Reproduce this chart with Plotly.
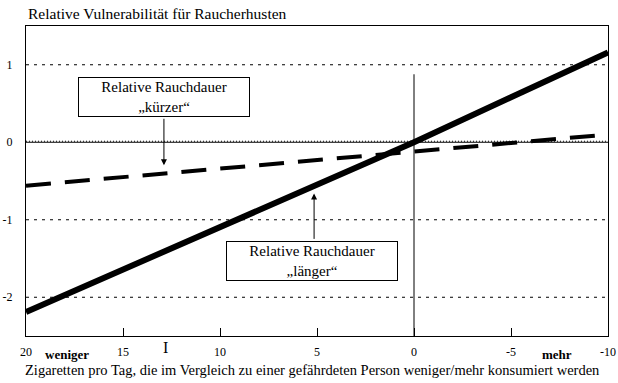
import plotly.graph_objects as go

# Data
x_vals = [20, 15, 10, 5, 0, -5, -10]
laenger = [-2.19, -1.64, -1.09, -0.54, 0.0, 0.58, 1.16]   # solid thick line
kuerzer = [-0.56, -0.45, -0.34, -0.22, -0.11, 0.0, 0.10]  # dashed line
x_ticks = [20, 15, 10, 5, 0, -5, -10]
y_ticks = [1, 0, -1, -2]

W, H = 618, 383
L, R, T, B = 26, 10, 26, 47
pw, ph = W - L - R, H - T - B

def px(xp):
    return (xp - L) / pw

def py(yp):
    return (H - B - yp) / ph

SERIF = "Liberation Serif"

fig = go.Figure()
fig.add_trace(go.Scatter(x=x_vals, y=kuerzer, mode="lines",
                         line=dict(color="black", width=4, dash="25px,14px"),
                         showlegend=False, hoverinfo="skip"))
fig.add_trace(go.Scatter(x=x_vals, y=laenger, mode="lines",
                         line=dict(color="black", width=6),
                         showlegend=False, hoverinfo="skip"))

shapes = []
for yv in [1, -1, -2]:
    shapes.append(dict(type="line", xref="x", yref="y", x0=20, x1=-10, y0=yv, y1=yv,
                       line=dict(color="black", width=1, dash="3px,5px"), layer="below"))
shapes.append(dict(type="line", xref="x", yref="y", x0=20, x1=-10, y0=0, y1=0,
                   line=dict(color="black", width=1), layer="below"))
shapes.append(dict(type="line", xref="x", yref="y", x0=20, x1=-10, y0=0.013, y1=0.013,
                   line=dict(color="black", width=1, dash="1px,2px"), layer="below"))
shapes.append(dict(type="line", xref="x", yref="y", x0=0, x1=0, y0=0.877, y1=-2.5,
                   line=dict(color="black", width=1), layer="below"))

annotations = [
    dict(text="Relative Vulnerabilität für Raucherhusten", xref="paper", yref="paper",
         x=px(26), y=py(14), xanchor="left", yanchor="middle", showarrow=False,
         font=dict(family=SERIF, size=15.5, color="black")),
    dict(text="Zigaretten pro Tag, die im Vergleich zu einer gefährdeten Person weniger/mehr konsumiert werden",
         xref="paper", yref="paper", x=px(312), y=py(370), xanchor="center", yanchor="middle",
         showarrow=False, font=dict(family=SERIF, size=14.5, color="black")),
    dict(text="<b>weniger</b>", xref="paper", yref="paper", x=px(67), y=py(354),
         xanchor="center", yanchor="middle", showarrow=False,
         font=dict(family=SERIF, size=13, color="black")),
    dict(text="<b>mehr</b>", xref="paper", yref="paper", x=px(557), y=py(354),
         xanchor="center", yanchor="middle", showarrow=False,
         font=dict(family=SERIF, size=13, color="black")),
    dict(text="I", xref="paper", yref="paper", x=px(165), y=py(347),
         xanchor="center", yanchor="middle", showarrow=False,
         font=dict(family=SERIF, size=16, color="black")),
    dict(text="Relative Rauchdauer<br>„kürzer“", xref="paper", yref="paper",
         x=px(163.5), y=py(97), xanchor="center", yanchor="middle", showarrow=False,
         width=168, height=36, borderpad=1, bordercolor="black", borderwidth=1,
         bgcolor="white", align="center",
         font=dict(family=SERIF, size=15, color="black")),
    dict(text="Relative Rauchdauer<br>„länger“", xref="paper", yref="paper",
         x=px(312), y=py(261), xanchor="center", yanchor="middle", showarrow=False,
         width=168, height=36, borderpad=1, bordercolor="black", borderwidth=1,
         bgcolor="white", align="center",
         font=dict(family=SERIF, size=15, color="black")),
    # arrows
    dict(text="", xref="x", yref="y", x=12.89, y=-0.297, ax=0, ay=-48,
         showarrow=True, arrowhead=2, arrowsize=1.2, arrowwidth=1, arrowcolor="black",
         standoff=0, startstandoff=0),
    dict(text="", xref="x", yref="y", x=5.15, y=-0.66, ax=0, ay=47,
         showarrow=True, arrowhead=2, arrowsize=1.2, arrowwidth=1, arrowcolor="black",
         standoff=0, startstandoff=0),
]

fig.update_layout(
    width=W, height=H,
    margin=dict(l=L, r=R, t=T, b=B, autoexpand=False),
    paper_bgcolor="white", plot_bgcolor="white",
    font=dict(family=SERIF, color="black"),
    shapes=shapes, annotations=annotations,
    showlegend=False,
    xaxis=dict(range=[20, -10], tickvals=x_ticks, ticktext=[str(v) for v in x_ticks],
               ticks="inside", ticklen=8, tickcolor="black", tickwidth=1,
               showgrid=False, zeroline=False, showline=True, linecolor="black",
               linewidth=1, mirror=True, ticklabelstandoff=5, automargin=False,
               tickfont=dict(family=SERIF, size=12, color="black")),
    yaxis=dict(range=[-2.5, 1.5], tickvals=y_ticks, ticktext=[str(v) for v in y_ticks],
               ticks="", showgrid=False, zeroline=False, showline=True,
               linecolor="black", linewidth=1, mirror=True, ticklabelstandoff=10,
               automargin=False,
               tickfont=dict(family=SERIF, size=12, color="black")),
)

fig.write_html("out.html")
